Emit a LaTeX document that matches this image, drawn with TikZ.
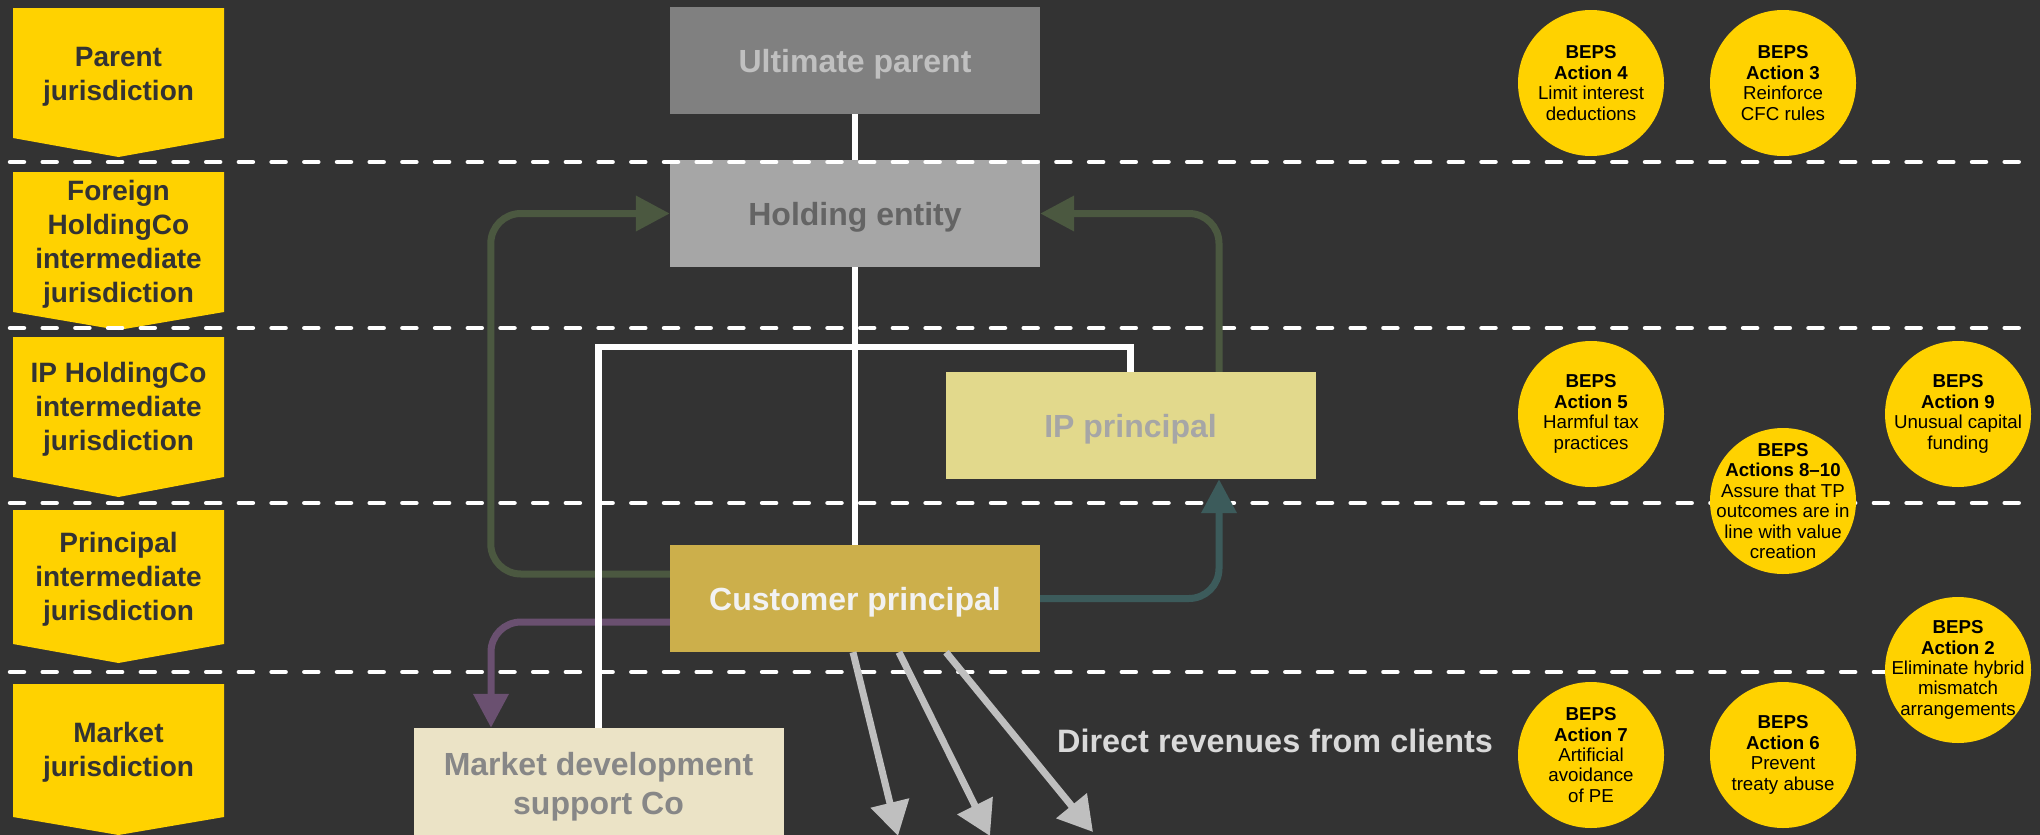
\documentclass[tikz,border=0pt]{standalone}
\usepackage{fontspec}
\setmainfont{Liberation Sans}
\usetikzlibrary{arrows.meta, calc}

\definecolor{bgDark}{HTML}{333333}
\definecolor{bepsYellow}{HTML}{FFD200}
\definecolor{upFill}{HTML}{808080}
\definecolor{upText}{HTML}{C0C0C0}
\definecolor{holdFill}{HTML}{A6A6A6}
\definecolor{holdText}{HTML}{646464}
\definecolor{ipFill}{HTML}{E2D98C}
\definecolor{ipText}{HTML}{A6A6A6}
\definecolor{custFill}{HTML}{CCAF4B}
\definecolor{custText}{HTML}{F2F2F2}
\definecolor{mktFill}{HTML}{EBE3C6}
\definecolor{mktText}{HTML}{878787}
\definecolor{linkGreen}{HTML}{4B5840}
\definecolor{linkTeal}{HTML}{3C5B5B}
\definecolor{linkPurple}{HTML}{6A5070}
\definecolor{revGray}{HTML}{BFBFBF}
\definecolor{revText}{HTML}{D9D9D9}

\begin{document}
\begin{tikzpicture}[x=1pt, y=-1pt,
    jurtext/.style={inner sep=0pt, align=center, text=bgDark, font=\fontsize{28}{34}\selectfont\bfseries},
    entity/.style={rectangle, minimum width=370pt, minimum height=107pt, inner sep=0pt, align=center, font=\fontsize{32}{39}\selectfont\bfseries},
    oneline/.style={text height=23pt, text depth=0pt},
    beps/.style={circle, fill=bepsYellow, minimum size=146pt, inner sep=0pt},
    bepstext/.style={inner sep=0pt, align=center, text=black, font=\fontsize{18.7}{20.4}\selectfont},
    sepline/.style={white, line width=4.5pt, line cap=round, dash pattern=on 14pt off 18.7pt},
    orgline/.style={white, line width=6.5pt},
    flow/.style={line width=7pt, rounded corners=30pt, -{Triangle[length=34pt, width=34pt]}},
    revarrow/.style={draw=revGray, line width=7pt, -{Triangle[length=34pt, width=38pt]}}]

    % Background
    \fill[bgDark] (0,0) rectangle (2040,835);
    \useasboundingbox (0,0) rectangle (2040,835);

    % Jurisdiction banners on the left
    \fill[bepsYellow] (13,8) -- (224,8) -- (224,138) -- (118.5,157) -- (13,138) -- cycle;
    \node[jurtext] (jparent) at (118.5,77) {Parent\\jurisdiction};
    \fill[bepsYellow] (13,172) -- (224,172) -- (224,312) -- (118.5,330) -- (13,312) -- cycle;
    \node[jurtext] (jforeign) at (118.5,244) {Foreign\\HoldingCo\\intermediate\\jurisdiction};
    \fill[bepsYellow] (13,337) -- (224,337) -- (224,477) -- (118.5,497) -- (13,477) -- cycle;
    \node[jurtext] (jip) at (118.5,409) {IP HoldingCo\\intermediate\\jurisdiction};
    \fill[bepsYellow] (13,510) -- (224,510) -- (224,644) -- (118.5,663) -- (13,644) -- cycle;
    \node[jurtext] (jprincipal) at (118.5,579) {Principal\\intermediate\\jurisdiction};
    \fill[bepsYellow] (13,684) -- (224,684) -- (224,817) -- (118.5,835) -- (13,817) -- cycle;
    \node[jurtext] (jmarket) at (118.5,752) {Market\\jurisdiction};

    % Entities
    \node[entity, oneline, fill=upFill, text=upText] (up) at (855,60.5) {Ultimate parent};
    \node[entity, oneline, fill=holdFill, text=holdText] (hold) at (855,213.5) {Holding entity};
    \node[entity, oneline, fill=ipFill, text=ipText] (ip) at (1130.5,425.5) {IP principal};
    \node[entity, oneline, fill=custFill, text=custText] (cust) at (855,598.5) {Customer principal};
    \node[entity, fill=mktFill, text=mktText, minimum height=118pt] (mkt) at (598.5,787) {Market development\\support Co};

    % Jurisdiction separators
    \foreach \y in {162,328,503,672} {
        \draw[sepline] (10,\y) -- (2030,\y);
    }

    % Payment flows
    \draw[flow, linkGreen] ([yshift=24.5pt]cust.west) -- ++(-179,0) |- (hold.west);
    \draw[flow, linkGreen] ([xshift=88.5pt]ip.north) |- (hold.east);
    \draw[flow, linkTeal] (cust.east) -| ([xshift=88.5pt]ip.south);
    \draw[flow, linkPurple] ([yshift=-23.5pt]cust.west) -| ([xshift=-107.5pt]mkt.north);

    % Ownership lines
    \coordinate (tee) at (1130.5,347);
    \draw[orgline] (up.south) -- (hold.north);
    \draw[orgline] (hold.south) -- (cust.north);
    \draw[orgline] (mkt.north) |- (tee) -- (ip.north);

    % Revenues from clients
    \coordinate (rev1) at (898,836);
    \coordinate (rev2) at (990,836);
    \coordinate (rev3) at (1093,832);
    \draw[revarrow] ([xshift=-2pt]cust.south) -- (rev1);
    \draw[revarrow] ([xshift=44pt]cust.south) -- (rev2);
    \draw[revarrow] ([xshift=91pt]cust.south) -- (rev3);
    \node[anchor=base west, inner sep=0pt, text=revText, font=\fontsize{32.4}{39}\selectfont\bfseries] (revlabel) at (1057,752) {Direct revenues from clients};

    % BEPS actions
    \node[beps] (a4) at (1591,83) {};
    \node[bepstext] (a4txt) at (a4) {\textbf{BEPS}\\\textbf{Action 4}\\Limit interest\\deductions};
    \node[beps] (a3) at (1783,83) {};
    \node[bepstext] (a3txt) at (a3) {\textbf{BEPS}\\\textbf{Action 3}\\Reinforce\\CFC rules};
    \node[beps] (a5) at (1591,414) {};
    \node[bepstext] (a5txt) at (a5) {\textbf{BEPS}\\\textbf{Action 5}\\Harmful tax\\practices};
    \node[beps] (a9) at (1958,414) {};
    \node[bepstext] (a9txt) at (a9) {\textbf{BEPS}\\\textbf{Action 9}\\Unusual capital\\funding};
    \node[beps] (a810) at (1783,501) {};
    \node[bepstext] (a810txt) at (a810) {\textbf{BEPS}\\\textbf{Actions 8--10}\\Assure that TP\\outcomes are in\\line with value\\creation};
    \node[beps] (a2) at (1958,670) {};
    \node[bepstext] (a2txt) at (a2) {\textbf{BEPS}\\\textbf{Action 2}\\Eliminate hybrid\\mismatch\\arrangements};
    \node[beps] (a7) at (1591,755) {};
    \node[bepstext] (a7txt) at (a7) {\textbf{BEPS}\\\textbf{Action 7}\\Artificial\\avoidance\\of PE};
    \node[beps] (a6) at (1783,755) {};
    \node[bepstext] (a6txt) at (a6) {\textbf{BEPS}\\\textbf{Action 6}\\Prevent\\treaty abuse};

\end{tikzpicture}
\end{document}
